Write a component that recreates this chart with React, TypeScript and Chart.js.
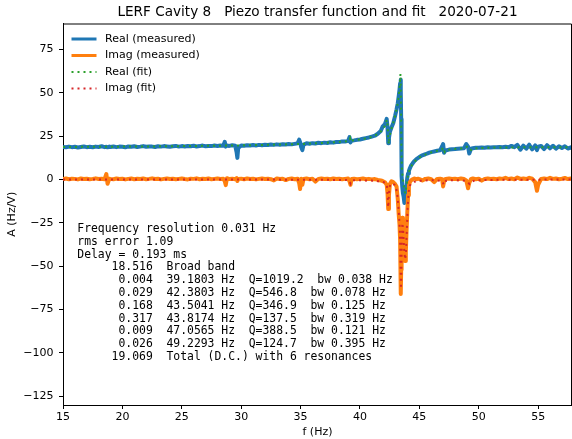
import { useEffect, useRef } from "react";
import { Chart, registerables } from "chart.js";

Chart.register(...registerables);

// ---------- data ----------
const measFreq = [
  15.0, 15.25, 15.5, 15.75, 16.0, 16.25, 16.5, 16.75, 17.0, 17.25, 17.5, 17.75, 18.0, 18.25, 18.5, 18.65, 18.75, 18.9,
  19.0, 19.25, 19.5, 19.75, 20.0, 20.25, 20.5, 20.75, 21.0, 21.25, 21.5, 21.75, 22.0, 22.25, 22.5, 22.75, 23.0, 23.25,
  23.5, 23.75, 24.0, 24.25, 24.5, 24.75, 25.0, 25.25, 25.5, 25.75, 26.0, 26.25, 26.5, 26.75, 27.0, 27.25, 27.5, 27.75,
  28.0, 28.25, 28.5, 28.62, 28.7, 28.8, 29.0, 29.25, 29.5, 29.62, 29.68, 29.75, 30.0, 30.25, 30.5, 30.75, 31.0, 31.25,
  31.5, 31.75, 32.0, 32.25, 32.5, 32.75, 33.0, 33.25, 33.5, 33.75, 34.0, 34.25, 34.5, 34.75, 34.88, 34.96, 35.05, 35.15,
  35.25, 35.5, 35.75, 36.0, 36.25, 36.5, 36.75, 37.0, 37.25, 37.5, 37.75, 38.0, 38.25, 38.5, 38.75, 39.0, 39.12, 39.2,
  39.3, 39.5, 39.75, 40.0, 40.25, 40.5, 40.75, 41.0, 41.25, 41.5, 41.75, 41.9, 42.1, 42.25, 42.32, 42.38, 42.44, 42.52,
  42.65, 42.8, 42.95, 43.08, 43.18, 43.26, 43.33, 43.38, 43.42, 43.45, 43.47, 43.49, 43.52, 43.56, 43.62, 43.68, 43.74,
  43.8, 43.86, 43.92, 43.98, 44.05, 44.12, 44.2, 44.3, 44.45, 44.6, 44.75, 44.9, 45.0, 45.25, 45.5, 45.75, 46.0, 46.25,
  46.5, 46.75, 46.92, 47.0, 47.08, 47.2, 47.5, 47.75, 48.0, 48.25, 48.5, 48.75, 48.95, 49.1, 49.2, 49.35, 49.5, 49.75,
  50.0, 50.25, 50.5, 50.75, 51.0, 51.25, 51.5, 51.75, 52.0, 52.25, 52.5, 52.75, 53.0, 53.25, 53.5, 53.75, 54.0, 54.25,
  54.5, 54.75, 54.9, 55.0, 55.25, 55.5, 55.75, 56.0, 56.25, 56.5, 56.75, 57.0, 57.25, 57.5, 57.75, 57.85,
];
const measReal = [
  18.8, 18.6, 19.0, 18.7, 18.9, 18.5, 18.8, 19.1, 18.7, 18.9, 18.6, 19.0, 18.8, 19.2, 18.7, 18.9, 18.6, 19.0,
  18.8, 19.1, 18.7, 19.0, 18.9, 18.6, 19.1, 18.9, 19.2, 18.8, 19.0, 19.3, 18.9, 19.1, 19.0, 18.8, 19.2, 19.0,
  19.3, 19.1, 18.9, 19.2, 19.4, 19.0, 19.3, 19.1, 19.4, 19.2, 19.5, 19.1, 19.3, 19.6, 19.2, 19.4, 19.3, 19.6,
  19.4, 19.7, 19.5, 21.8, 19.0, 19.6, 19.4, 19.8, 19.5, 15.5, 12.5, 18.2, 19.7, 19.5, 19.8, 19.6, 19.9, 19.7,
  20.0, 19.8, 20.1, 19.9, 20.2, 20.0, 20.3, 20.1, 20.4, 20.2, 20.5, 20.3, 20.6, 20.9, 23.0, 21.5, 18.8, 17.0,
  20.2, 20.9, 20.7, 21.0, 20.8, 21.2, 21.0, 21.3, 21.1, 21.5, 21.3, 21.7, 21.6, 22.0, 21.9, 22.3, 24.5, 21.4,
  22.4, 22.6, 22.9, 23.1, 23.5, 23.9, 24.3, 24.8, 25.3, 26.4, 28.0, 30.5, 32.0, 35.0, 30.0, 21.0, 24.0, 27.5,
  30.0, 32.5, 36.5, 40.5, 44.0, 48.0, 52.0, 55.5, 57.5, 52.0, 35.0, 12.0, 2.0, -4.0, -8.0, -10.0, -13.5,
  -12.0, -8.0, -3.0, 1.0, 3.5, 5.0, 6.5, 8.0, 9.5, 10.8, 11.8, 12.5, 13.0, 14.0, 14.6, 15.3, 15.8, 16.2,
  16.6, 16.9, 19.2, 20.5, 15.5, 16.8, 17.3, 17.5, 17.6, 17.8, 17.9, 18.0, 20.5, 19.0, 15.0, 17.8, 18.1, 18.4,
  18.3, 18.5, 18.4, 18.6, 18.5, 18.7, 18.6, 18.8, 18.7, 18.9, 18.6, 19.4, 18.7, 20.0, 17.2, 19.6, 17.8, 20.1,
  17.4, 19.7, 17.0, 18.9, 19.4, 17.6, 19.8, 18.0, 19.5, 17.8, 19.2, 18.2, 19.2, 17.9, 18.6, 17.7,
];
const measImag = [
  0.3, 0.6, 0.2, 0.5, 0.4, 0.1, 0.6, 0.3, 0.5, 0.2, 0.4, 0.7, 0.3, 0.5, 0.2, 3.2, -2.4, 0.5,
  0.4, 0.2, 0.6, 0.3, 0.5, 0.1, 0.4, 0.6, 0.2, 0.5, 0.3, 0.6, 0.2, 0.4, 0.7, 0.3, 0.5, 0.1,
  0.4, 0.6, 0.3, 0.5, 0.2, 0.4, 0.6, 0.3, 0.1, 0.5, 0.4, 0.7, 0.2, 0.5, 0.3, 0.6, 0.2, 0.4,
  0.6, 0.3, 0.5, -1.0, -3.2, 0.8, 0.3, 0.5, 0.2, 0.8, -0.8, 0.4, 0.5, 0.2, 0.6, 0.3, 0.5, 0.1,
  0.4, 0.6, 0.3, 0.5, 0.2, -0.5, 0.6, 0.3, 0.5, -0.3, 0.4, 0.6, 0.2, 0.5, -2.0, -5.5, 0.5, -3.0,
  0.4, 0.6, 0.2, 0.5, -1.2, 0.4, 0.6, 0.3, 0.5, 0.2, 0.6, 0.3, 0.5, 0.2, 0.4, 0.6, -1.0, -3.0,
  0.3, 0.5, 0.2, 0.4, 0.6, 0.2, 0.4, 0.1, 0.3, -0.2, -0.5, -0.8, -1.5, -3.0, -8.0, -17.0, -9.0, -2.5,
  -1.0, -1.5, -2.5, -4.0, -11.0, -20.0, -26.0, -35.0, -50.0, -66.0, -52.0, -40.0, -28.0, -22.0, -32.0, -40.0, -46.0,
  -47.0, -42.0, -30.0, -20.0, -9.0, -3.5, -1.5, -0.5, 0.3, 0.6, 0.2, 0.5, 0.3, -0.5, 0.4, 0.6, 0.2, -1.5,
  0.4, 0.5, 0.2, -4.0, -1.0, 0.4, 0.6, 0.3, 0.5, 0.2, 0.6, 0.3, -0.5, -5.0, -2.0, 0.4, 0.6, 0.2,
  0.5, -0.6, 0.4, 0.6, 0.3, 0.5, 0.2, 0.6, 0.4, 1.0, 0.3, 0.6, 0.2, 1.2, 0.4, 0.6, 0.3, 1.0,
  0.5, -1.5, -6.5, -3.0, 0.4, 0.6, 0.3, 1.0, 0.4, 0.6, 0.2, 0.5, 0.9, 0.3, 0.6, 0.4,
];

const fitFreq = [
  15.0, 17.5, 20.0, 22.5, 25.0, 27.5, 30.0, 32.5, 35.0, 36.5, 38.0, 38.9, 39.1, 39.16, 39.2, 39.26, 39.4, 40.0, 40.5,
  41.0, 41.5, 41.8, 42.0, 42.15, 42.27, 42.33, 42.38, 42.43, 42.48, 42.58, 42.75, 42.9, 43.05, 43.15, 43.23, 43.3,
  43.36, 43.41, 43.45, 43.48, 43.52, 43.57, 43.64, 43.72, 43.8, 43.87, 43.94, 44.02, 44.1, 44.2, 44.35, 44.55, 44.8,
  45.0, 45.5, 46.0, 46.5, 46.9, 46.98, 47.06, 47.14, 47.25, 47.6, 48.0, 48.5, 48.9, 49.1, 49.23, 49.36, 49.55, 50.0,
  51.0, 52.0, 54.0, 56.0, 57.85,
];
const fitReal = [
  18.8, 18.9, 19.0, 19.1, 19.3, 19.5, 19.7, 20.1, 20.5, 21.0, 21.6, 22.1, 22.6, 23.6, 21.6, 22.2, 22.6, 23.1, 23.7,
  24.6, 26.2, 28.0, 29.6, 31.8, 34.5, 31.0, 24.0, 20.5, 24.5, 27.5, 31.5, 35.0, 39.5, 43.0, 46.5, 50.5,
  55.5, 61.0, 45.0, 22.0, 8.0, 3.0, -1.0, -5.0, -8.0, -6.0, -2.0, 1.5, 4.0, 6.0, 8.0, 10.0, 11.8,
  12.8, 14.4, 15.7, 16.6, 17.3, 18.6, 17.2, 15.9, 16.8, 17.4, 17.7, 17.9, 18.5, 19.3, 18.1, 17.0, 17.7, 18.1,
  18.4, 18.5, 18.6, 18.6, 18.6,
];
const fitImag = [
  0.1, 0.1, 0.1, 0.1, 0.1, 0.0, 0.0, 0.0, -0.1, -0.1, -0.2, -0.3, -0.5, -1.5, -2.2, -0.8, -0.4, -0.4, -0.5,
  -0.6, -0.9, -1.2, -1.5, -2.0, -3.5, -9.0, -16.0, -10.0, -4.5, -2.5, -2.3, -3.0, -5.0, -9.0, -15.0, -22.0,
  -30.0, -46.0, -63.0, -55.0, -35.0, -25.0, -30.0, -40.0, -46.0, -42.0, -30.0, -15.0, -7.0, -3.5, -2.0, -1.3, -0.9,
  -0.7, -0.5, -0.4, -0.5, -0.8, -1.8, -3.0, -1.6, -0.7, -0.4, -0.3, -0.4, -0.8, -1.8, -2.6, -1.7, -0.8, -0.4,
  -0.2, -0.1, -0.1, 0.0, 0.0,
];

const xTicks = [15, 20, 25, 30, 35, 40, 45, 50, 55];
const xTickLabels = ["15", "20", "25", "30", "35", "40", "45", "50", "55"];
const yTicks = [-125, -100, -75, -50, -25, 0, 25, 50, 75];
const yTickLabels = ["\u2212125", "\u2212100", "\u221275", "\u221250", "\u221225", "0", "25", "50", "75"];

const seriesNames = ["Real (measured)", "Imag (measured)", "Real (fit)", "Imag (fit)"];
const titleText = "LERF Cavity 8   Piezo transfer function and fit   2020-07-21";
const xLabel = "f (Hz)";
const yLabel = "A (Hz/V)";
const annotationLines = [
  "Frequency resolution 0.031 Hz",
  "rms error 1.09",
  "Delay = 0.193 ms",
  "     18.516  Broad band",
  "      0.004  39.1803 Hz  Q=1019.2  bw 0.038 Hz",
  "      0.029  42.3803 Hz  Q=546.8  bw 0.078 Hz",
  "      0.168  43.5041 Hz  Q=346.9  bw 0.125 Hz",
  "      0.317  43.8174 Hz  Q=137.5  bw 0.319 Hz",
  "      0.009  47.0565 Hz  Q=388.5  bw 0.121 Hz",
  "      0.026  49.2293 Hz  Q=124.7  bw 0.395 Hz",
  "     19.069  Total (D.C.) with 6 resonances",
];

const C_BLUE = "#1f77b4";
const C_ORANGE = "#ff7f0e";
const C_GREEN = "#2ca02c";
const C_RED = "#d62728";
const SANS = "'DejaVu Sans', sans-serif";
const MONO = "'DejaVu Sans Mono', monospace";

const W = 572;
const H = 439;

const pts = (xs: number[], ys: number[]) => xs.map((x, i) => ({ x, y: ys[i] }));

const decorPlugin = {
  id: "decor",
  afterDraw(chart: any) {
    const ctx = chart.ctx as CanvasRenderingContext2D;
    const a = chart.chartArea;
    ctx.save();
    // frame (top & right spines)
    ctx.strokeStyle = "#000";
    ctx.lineWidth = 1;
    ctx.beginPath();
    ctx.moveTo(a.left, a.top + 0.5);
    ctx.lineTo(a.right - 0.5, a.top + 0.5);
    ctx.lineTo(a.right - 0.5, a.bottom);
    ctx.stroke();

    // title
    ctx.fillStyle = "#000";
    ctx.font = `13.6px ${SANS}`;
    ctx.textAlign = "center";
    ctx.textBaseline = "middle";
    ctx.fillText(titleText, (a.left + a.right) / 2, 12);

    // axis titles
    ctx.font = `11px ${SANS}`;
    ctx.fillText(xLabel, (a.left + a.right) / 2, 432);
    ctx.save();
    ctx.translate(12, (a.top + a.bottom) / 2);
    ctx.rotate(-Math.PI / 2);
    ctx.fillText(yLabel, 0, 0);
    ctx.restore();

    // legend
    const colors = [C_BLUE, C_ORANGE, C_GREEN, C_RED];
    ctx.textAlign = "left";
    for (let i = 0; i < seriesNames.length; i++) {
      const y = 39 + i * 16.5;
      ctx.beginPath();
      ctx.strokeStyle = colors[i];
      if (i < 2) {
        ctx.setLineDash([]);
        ctx.lineWidth = 3;
      } else {
        ctx.setLineDash([2, 4]);
        ctx.lineWidth = 2;
      }
      ctx.moveTo(71.5, y);
      ctx.lineTo(96.5, y);
      ctx.stroke();
      ctx.setLineDash([]);
      ctx.fillStyle = "#000";
      ctx.font = `11px ${SANS}`;
      ctx.fillText(seriesNames[i], 105, y);
    }

    // annotation text
    ctx.font = `11.4px ${MONO}`;
    ctx.fillStyle = "#000";
    for (let i = 0; i < annotationLines.length; i++) {
      ctx.fillText(annotationLines[i], 77.3, 229 + i * 12.8);
    }
    ctx.restore();
  },
};

export default function App() {
  const ref = useRef<HTMLCanvasElement | null>(null);

  useEffect(() => {
    const canvas = ref.current;
    if (!canvas) return;
    const chart = new Chart(canvas, {
      type: "line",
      data: {
        datasets: [
          {
            label: seriesNames[0],
            data: pts(measFreq, measReal),
            borderColor: C_BLUE,
            borderWidth: 4,
            pointRadius: 0,
            tension: 0,
            borderJoinStyle: "round",
            order: 3,
          },
          {
            label: seriesNames[1],
            data: pts(measFreq, measImag),
            borderColor: C_ORANGE,
            borderWidth: 4,
            pointRadius: 0,
            tension: 0,
            borderJoinStyle: "round",
            order: 2,
          },
          {
            label: seriesNames[2],
            data: pts(fitFreq, fitReal),
            borderColor: C_GREEN,
            borderWidth: 2,
            borderDash: [2, 4],
            pointRadius: 0,
            tension: 0,
            order: 1,
          },
          {
            label: seriesNames[3],
            data: pts(fitFreq, fitImag),
            borderColor: C_RED,
            borderWidth: 2,
            borderDash: [2, 4],
            pointRadius: 0,
            tension: 0,
            order: 0,
          },
        ] as any,
      },
      options: {
        animation: false,
        responsive: false,
        maintainAspectRatio: false,
        devicePixelRatio: 1,
        layout: { padding: { top: 23.5, right: 0, left: 0, bottom: 0 } },
        plugins: {
          legend: { display: false },
          title: { display: false },
          tooltip: { enabled: false },
        },
        scales: {
          x: {
            type: "linear",
            min: 15,
            max: 57.85,
            afterBuildTicks: (s: any) => {
              s.ticks = xTicks.map((v) => ({ value: v }));
            },
            afterFit: (s: any) => {
              s.height = 34;
            },
            ticks: {
              color: "#000",
              font: { family: SANS, size: 11 },
              padding: 2,
              maxRotation: 0,
              autoSkip: false,
              callback: (v: any) => {
                const i = xTicks.indexOf(Number(v));
                return i >= 0 ? xTickLabels[i] : "";
              },
            },
            grid: { drawOnChartArea: false, drawTicks: true, tickLength: 4, color: "#000" },
            border: { display: true, color: "#000", width: 1 },
          },
          y: {
            type: "linear",
            min: -130,
            max: 90,
            afterBuildTicks: (s: any) => {
              s.ticks = yTicks.map((v) => ({ value: v }));
            },
            afterFit: (s: any) => {
              s.width = 63;
            },
            ticks: {
              color: "#000",
              font: { family: SANS, size: 11 },
              padding: 5.5,
              autoSkip: false,
              callback: (v: any) => {
                const i = yTicks.indexOf(Number(v));
                return i >= 0 ? yTickLabels[i] : "";
              },
            },
            grid: { drawOnChartArea: false, drawTicks: true, tickLength: 4, color: "#000" },
            border: { display: true, color: "#000", width: 1 },
          },
        },
      } as any,
      plugins: [decorPlugin],
    });
    return () => chart.destroy();
  }, []);

  return (
    <div style={{ position: "fixed", left: 0, top: 0, width: W, height: H, background: "#fff" }}>
      <canvas ref={ref} width={W} height={H} style={{ display: "block", width: W, height: H }} />
    </div>
  );
}
